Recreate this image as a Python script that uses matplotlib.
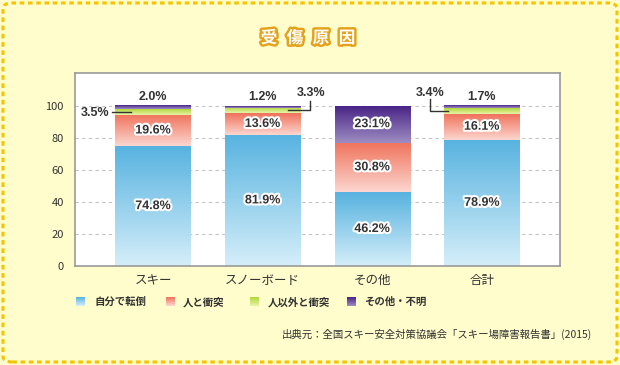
import numpy as np
import matplotlib.pyplot as plt
import matplotlib.patheffects as pe
from matplotlib.patches import FancyBboxPatch
from matplotlib.colors import LinearSegmentedColormap

plt.rcParams['font.family'] = ['Noto Sans CJK JP', 'DejaVu Sans']

# データ
categories = ['スキー', 'スノーボード', 'その他', '合計']
series_names = ['自分で転倒', '人と衝突', '人以外と衝突', 'その他・不明']
self_fall = [74.8, 81.9, 46.2, 78.9]
collide_person = [19.6, 13.6, 30.8, 16.1]
collide_other = [3.5, 3.3, 0.0, 3.4]
unknown = [2.0, 1.2, 23.1, 1.7]
yticks = [0, 20, 40, 60, 80, 100]
title_chars = ['受', '傷', '原', '因']

series = [self_fall, collide_person, collide_other, unknown]
# グラデーション (上, 下)
grads = [('#58b3e0', '#d4eef9'),
         ('#f0735c', '#fcd6cf'),
         ('#b2d83e', '#e6f3a8'),
         ('#4a2587', '#9d8dc2')]

bg = '#fffdcc'
fig = plt.figure(figsize=(6.2, 3.65), dpi=100)
fig.patch.set_facecolor(bg)

# 外枠 (点線)
frame = FancyBboxPatch((3 / 620, 3 / 365), 614 / 620, 359 / 365,
                       boxstyle='round,pad=0,rounding_size=0.015',
                       transform=fig.transFigure, facecolor='none',
                       edgecolor='#f5c400', linewidth=2.2,
                       linestyle=(0, (1.5, 1.2)))
fig.patches.append(frame)

ax = fig.add_axes([75 / 620, (365 - 266) / 365, 485 / 620, 193 / 365])
ax.set_facecolor('white')

x = np.arange(len(categories))
width = 0.685
bottom = np.zeros(len(categories))
for vals, (c_top, c_bot) in zip(series, grads):
    bars = ax.bar(x, vals, width, bottom=bottom, color='none', zorder=2)
    cmap = LinearSegmentedColormap.from_list('g', [c_bot, c_top])
    for b in bars:
        if b.get_height() <= 0:
            continue
        x0, y0 = b.get_x(), b.get_y()
        ax.imshow(np.linspace(1, 0, 64).reshape(-1, 1), cmap=cmap,
                  extent=[x0, x0 + b.get_width(), y0, y0 + b.get_height()],
                  aspect='auto', zorder=2, vmin=0, vmax=1)
    bottom += np.array(vals)

ax.set_xlim(-0.712, 3.714)
ax.set_ylim(0, 120.5)
ax.set_yticks(yticks)
ax.set_xticks(x)
ax.set_xticklabels(categories, fontsize=9, color='#333333')
ax.tick_params(axis='y', labelsize=8, colors='#333333', length=0, pad=8)
ax.tick_params(axis='x', length=0, pad=6)
ax.yaxis.grid(True, linestyle=(0, (3, 3)), color='#c4c4c4', linewidth=0.8, zorder=1)
ax.set_axisbelow(True)
for s in ax.spines.values():
    s.set_color('#999999')
    s.set_linewidth(1.2)

outline = [pe.withStroke(linewidth=3, foreground='white')]
num_font = ['Liberation Sans', 'DejaVu Sans']

# 中央ラベル
for vals, base in [(self_fall, np.zeros(4)),
                   (collide_person, np.array(self_fall)),
                   (unknown, np.array(self_fall) + np.array(collide_person) + np.array(collide_other))]:
    for i, v in enumerate(vals):
        if v >= 10:
            ax.text(x[i], base[i] + v / 2, f'{v:.1f}%', ha='center', va='center',
                    fontsize=9, fontweight='bold', color='#333333',
                    family=num_font, path_effects=outline, zorder=5)

# 上部ラベル (小さい値)
for i in [0, 1, 3]:
    ax.text(x[i], 105.6, f'{unknown[i]:.1f}%', ha='center', va='center',
            fontsize=9, fontweight='bold', color='#333333', family=num_font, zorder=5)

lc = '#333333'
# スキー 3.5%
g0 = self_fall[0] + collide_person[0] + collide_other[0] / 2
ax.plot([-0.374, -0.2], [g0, g0], color=lc, lw=1, zorder=6)
ax.text(-0.53, g0 - 0.5, f'{collide_other[0]:.1f}%', ha='center', va='center',
        fontsize=9, fontweight='bold', color='#333333', family=num_font)
# スノーボード 3.3%
g1 = self_fall[1] + collide_person[1] + collide_other[1] / 2
ax.plot([1.228, 1.43, 1.43], [g1, g1, 103], color=lc, lw=1, zorder=6)
ax.text(1.44, 108.2, f'{collide_other[1]:.1f}%', ha='center', va='center',
        fontsize=9, fontweight='bold', color='#333333', family=num_font)
# 合計 3.4%
g3 = self_fall[3] + collide_person[3] + collide_other[3] / 2
ax.plot([2.53, 2.53, 2.694], [104, g3, g3], color=lc, lw=1, zorder=6)
ax.text(2.53, 108.2, f'{collide_other[3]:.1f}%', ha='center', va='center',
        fontsize=9, fontweight='bold', color='#333333', family=num_font)

# タイトル (一文字ずつ配置)
for k, ch in enumerate(title_chars):
    fig.text((269 + 26 * k) / 620, 1 - 38 / 365, ch, ha='center', va='center',
             fontsize=12, fontweight='bold', color='white',
             path_effects=[pe.withStroke(linewidth=3.5, foreground='#e3a21a')])

# 凡例
leg_sq_x = [76, 166, 250, 347]
leg_tx_x = [94, 183, 268, 364]
for name, (c_top, c_bot), sx, tx in zip(series_names, grads, leg_sq_x, leg_tx_x):
    lax = fig.add_axes([sx / 620, (365 - 306) / 365, 9 / 620, 9 / 365])
    cmap = LinearSegmentedColormap.from_list('g', [c_bot, c_top])
    lax.imshow(np.linspace(1, 0, 16).reshape(-1, 1), cmap=cmap, aspect='auto', vmin=0, vmax=1)
    lax.axis('off')
    fig.text(tx / 620, 1 - 302 / 365, name, ha='left', va='center', fontsize=7.5,
             fontweight='bold', color='#333333')

fig.text(592 / 620, 1 - 334 / 365,
         '出典元：全国スキー安全対策協議会「スキー場障害報告書」(2015)',
         ha='right', va='center', fontsize=7.5, color='#333333')

fig.savefig('out.png', dpi=100, facecolor=bg)
